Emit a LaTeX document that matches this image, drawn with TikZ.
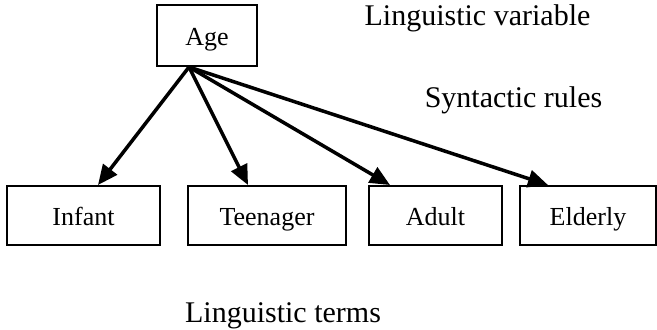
\documentclass[tikz,border=0pt]{standalone}
\usepackage{fontspec}
\setmainfont{Liberation Serif}
\usepackage{tikz}
\usetikzlibrary{arrows.meta,positioning}

\begin{document}
\begin{tikzpicture}[
  termbox/.style={draw=black,line width=0.85pt,align=center,
    minimum height=0.885cm,inner sep=0pt,text height=0.385cm,text depth=0.1cm,
    font=\fontsize{11.1}{13}\selectfont},
  tag/.style={font=\fontsize{12.8}{15}\selectfont,inner sep=0pt},
  rule/.style={-{Triangle[length=0.3cm,width=0.26cm]},line width=1.5pt}]
\useasboundingbox (0,0) rectangle (9.855,-4.935);

\node[termbox,minimum width=1.5cm,minimum height=0.915cm] (age) at (3.105,-0.533) {Age};
\node[termbox,minimum width=2.295cm] (infant) at (1.2525,-3.2325) {Infant};
\node[termbox,minimum width=2.37cm] (teen) at (4.005,-3.2325) {Teenager};
\node[termbox,minimum width=1.995cm] (adult) at (6.5325,-3.2325) {Adult};
\node[termbox,minimum width=2.04cm] (elderly) at (8.82,-3.2325) {Elderly};

\node[tag] (variable) at (7.1625,-0.28) {Linguistic variable};
\node[tag] (syntax) at (7.7025,-1.5) {Syntactic rules};
\node[tag] (terms) at (4.245,-4.73) {Linguistic terms};

% all rules fan out from one point under the variable box
\coordinate (root) at ([xshift=-0.27cm]age.south);
\draw[rule] (root) -- ([xshift=0.2175cm]infant.north);
\draw[rule] (root) -- ([xshift=-0.285cm]teen.north);
\draw[rule] (root) -- ([xshift=-0.6825cm]adult.north);
\draw[rule] (root) -- ([xshift=-0.6cm]elderly.north);
\end{tikzpicture}
\end{document}
